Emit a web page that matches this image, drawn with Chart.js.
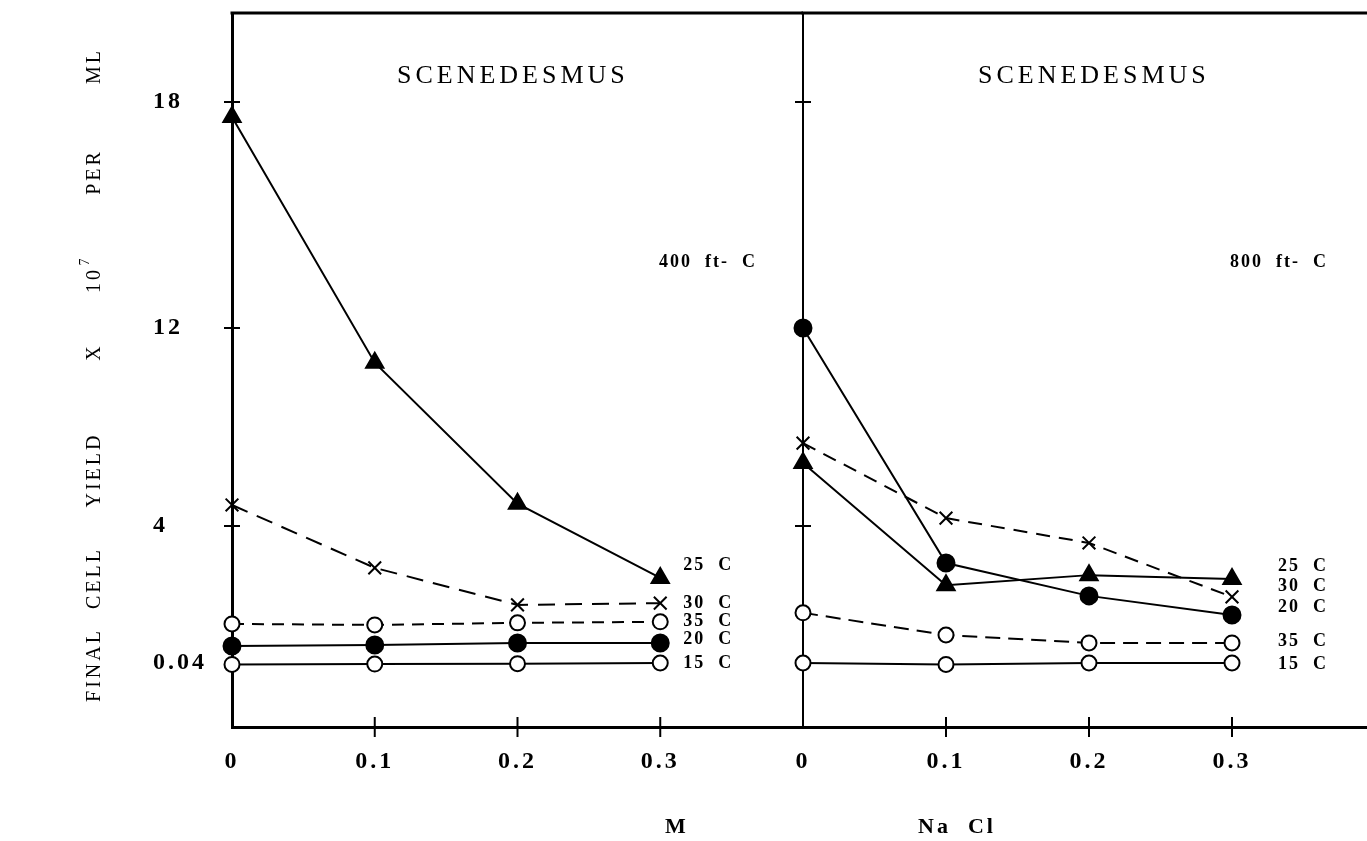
<!DOCTYPE html>
<html>
<head>
<meta charset="utf-8">
<script src="https://cdn.jsdelivr.net/npm/chart.js@4.4.1/dist/chart.umd.min.js"></script>
<style>
  html, body { margin: 0; padding: 0; background: #fff; }
  #wrap { position: relative; width: 1367px; height: 841px; }
  canvas { position: absolute; left: 0; top: 0; }
</style>
</head>
<body>
<div id="wrap">
  <canvas id="left" width="1367" height="841"></canvas>
  <canvas id="right" width="1367" height="841"></canvas>
</div>
<script>
// salt concentration (M)
const conc = [0, 0.1, 0.2, 0.3];
const xTicks = [0, 0.1, 0.2, 0.3];

// final cell yield x 10^7 per ml, 400 ft-C
const low25 = [17.6, 10.6, 4.9, 2.5];
const low30 = [4.85, 2.79, 1.72, 1.77];
const low35 = [1.17, 1.14, 1.2, 1.23];
const low20 = [0.53, 0.56, 0.62, 0.62];
const low15 = [0, 0.01, 0.02, 0.04];

// final cell yield x 10^7 per ml, 800 ft-C
const high20 = [12, 2.93, 1.98, 1.43];
const high30 = [7.35, 4.32, 3.51, 1.95];
const high25 = [6.55, 2.29, 2.58, 2.47];
const high35 = [1.49, 0.85, 0.62, 0.62];
const high15 = [0.04, 0, 0.04, 0.04];

// the y axis of the original is graduated unevenly
const yTicks = [0.04, 4, 12, 18];
const yTickLabels = ['0.04', '4', '12', '18'];
const yKnotValues = [0, 0.04, 4, 12, 18];
const yKnotPos = [62.6, 64, 201, 399, 625];
const yAxisTop = 714;

function pos(v) {
  let i = 1;
  while (i < yKnotValues.length - 1 && v > yKnotValues[i]) i++;
  const v0 = yKnotValues[i - 1], v1 = yKnotValues[i];
  const p0 = yKnotPos[i - 1], p1 = yKnotPos[i];
  return p0 + (v - v0) * (p1 - p0) / (v1 - v0);
}

const FONT = "'Liberation Serif', 'DejaVu Serif', serif";
Chart.defaults.font.family = FONT;
Chart.defaults.color = '#000';

function text(ctx, str, x, y, font, align, spacing) {
  ctx.font = font;
  ctx.letterSpacing = spacing || '0px';
  ctx.textAlign = align || 'left';
  ctx.textBaseline = 'middle';
  ctx.fillText(str, x, y);
}

function decor(cfg) {
  return {
    id: 'decor',
    beforeUpdate(chart) {
      chart.ctx.letterSpacing = '3px';
    },
    beforeDatasetsDraw(chart) {
      const { ctx, chartArea: a, scales: { x, y } } = chart;
      ctx.save();
      ctx.strokeStyle = '#000';
      ctx.lineWidth = 3;
      ctx.beginPath();
      ctx.moveTo(a.left - 1.5, a.top);
      ctx.lineTo(a.right, a.top);
      ctx.stroke();
      ctx.lineWidth = 2;
      x.ticks.forEach(t => {
        if (t.value === 0) return;
        const px = x.getPixelForValue(t.value);
        ctx.beginPath();
        ctx.moveTo(px, a.bottom - 10);
        ctx.lineTo(px, a.bottom + 10);
        ctx.stroke();
      });
      y.ticks.forEach(t => {
        const py = y.getPixelForValue(t.value);
        ctx.beginPath();
        ctx.moveTo(a.left - 8, py);
        ctx.lineTo(a.left + 8, py);
        ctx.stroke();
      });
      ctx.restore();
    },
    afterDraw(chart) {
      const { ctx, scales: { x, y } } = chart;
      ctx.save();
      ctx.fillStyle = '#000';
      text(ctx, 'SCENEDESMUS', cfg.titleX, 76, '26px ' + FONT, 'left', '4px');
      text(ctx, cfg.light, cfg.lightX, 262, 'bold 18px ' + FONT, 'left', '2px');
      const lx = x.getPixelForValue(0.3) + cfg.labelOffset;
      cfg.labels.forEach(l => {
        text(ctx, l.text, lx, y.getPixelForValue(pos(l.at)), 'bold 18px ' + FONT, 'left', '2px');
      });
      text(ctx, cfg.axisName, cfg.axisNameX, 827, 'bold 22px ' + FONT, 'center', '3px');

      if (cfg.yTitle) {
        const words = [['FINAL', 665], ['CELL', 578], ['YIELD', 470], ['X', 352], ['10', 280], ['PER', 172], ['ML', 66]];
        words.forEach(([w, cy]) => {
          ctx.save();
          ctx.translate(95, cy);
          ctx.rotate(-Math.PI / 2);
          text(ctx, w, 0, 0, '20px ' + FONT, 'center', '3px');
          if (w === '10') text(ctx, '7', 18, -10, '14px ' + FONT, 'center', '0px');
          ctx.restore();
        });
      }
      ctx.restore();
    }
  };
}

function series(values, style, fill, dash, radius) {
  return {
    data: conc.map((c, i) => ({ x: c, y: pos(values[i]) })),
    borderColor: '#000',
    borderWidth: 2,
    borderDash: dash,
    pointStyle: style,
    pointRadius: radius,
    pointBackgroundColor: fill,
    pointBorderColor: '#000',
    pointBorderWidth: 2,
    clip: false,
    tension: 0
  };
}

function panel(id, datasets, cfg) {
  return new Chart(document.getElementById(id), {
    type: 'line',
    data: { datasets },
    options: {
      responsive: false,
      animation: false,
      events: [],
      layout: {
        autoPadding: false,
        padding: { left: cfg.padLeft, right: cfg.padRight, top: 13, bottom: 0 }
      },
      plugins: { legend: { display: false }, tooltip: { enabled: false } },
      scales: {
        x: {
          type: 'linear', min: 0, max: cfg.xMax,
          grid: { display: false },
          border: { width: 3, color: '#000' },
          afterBuildTicks: s => { s.ticks = xTicks.map(v => ({ value: v })); },
          afterFit: s => { s.height = 114; s.paddingLeft = 0; s.paddingRight = 0; },
          ticks: {
            padding: 12,
            maxRotation: 0,
            font: { size: 24, weight: 'bold' },
            callback: v => v === 0 ? '0' : v.toFixed(1)
          }
        },
        y: {
          type: 'linear', min: 0, max: yAxisTop,
          grid: { display: false },
          border: { width: cfg.yBorder, color: '#000' },
          afterBuildTicks: s => { s.ticks = yTicks.map(v => ({ value: pos(v) })); },
          afterFit: s => { s.width = cfg.yWidth; s.paddingTop = 0; s.paddingBottom = 0; },
          ticks: {
            display: cfg.yLabels,
            crossAlign: 'far',
            font: { size: 24, weight: 'bold' },
            callback: (v, i) => yTickLabels[i]
          }
        }
      }
    },
    plugins: [decor(cfg)]
  });
}

panel('left', [
  series(low25, 'triangle', '#000', [], 10),
  series(low30, 'crossRot', '#000', [17, 10], 9),
  series(low35, 'circle', '#fff', [12, 8], 7.5),
  series(low20, 'circle', '#000', [], 8.5),
  series(low15, 'circle', '#fff', [], 7.5)
], {
  padLeft: 153, padRight: 564, yWidth: 79, yBorder: 3, yLabels: true, xMax: 0.4,
  titleX: 397, light: '400  ft-  C', lightX: 659, labelOffset: 23,
  axisName: 'M', axisNameX: 677, yTitle: true,
  labels: [
    { text: '25  C', at: 2.87 },
    { text: '30  C', at: 1.75 },
    { text: '35  C', at: 1.25 },
    { text: '20  C', at: 0.71 },
    { text: '15  C', at: 0.04 }
  ]
});

panel('right', [
  series(high20, 'circle', '#000', [], 8.5),
  series(high30, 'crossRot', '#000', [14, 9], 9),
  series(high25, 'triangle', '#000', [], 10),
  series(high35, 'circle', '#fff', [15, 8], 7.5),
  series(high15, 'circle', '#fff', [], 7.5)
], {
  padLeft: 740, padRight: 0, yWidth: 63, yBorder: 2, yLabels: false, xMax: 0.3944,
  titleX: 978, light: '800  ft-  C', lightX: 1230, labelOffset: 46,
  axisName: 'Na  Cl', axisNameX: 957, yTitle: false,
  labels: [
    { text: '25  C', at: 2.82 },
    { text: '30  C', at: 2.27 },
    { text: '20  C', at: 1.66 },
    { text: '35  C', at: 0.68 },
    { text: '15  C', at: 0 }
  ]
});
</script>
</body>
</html>
